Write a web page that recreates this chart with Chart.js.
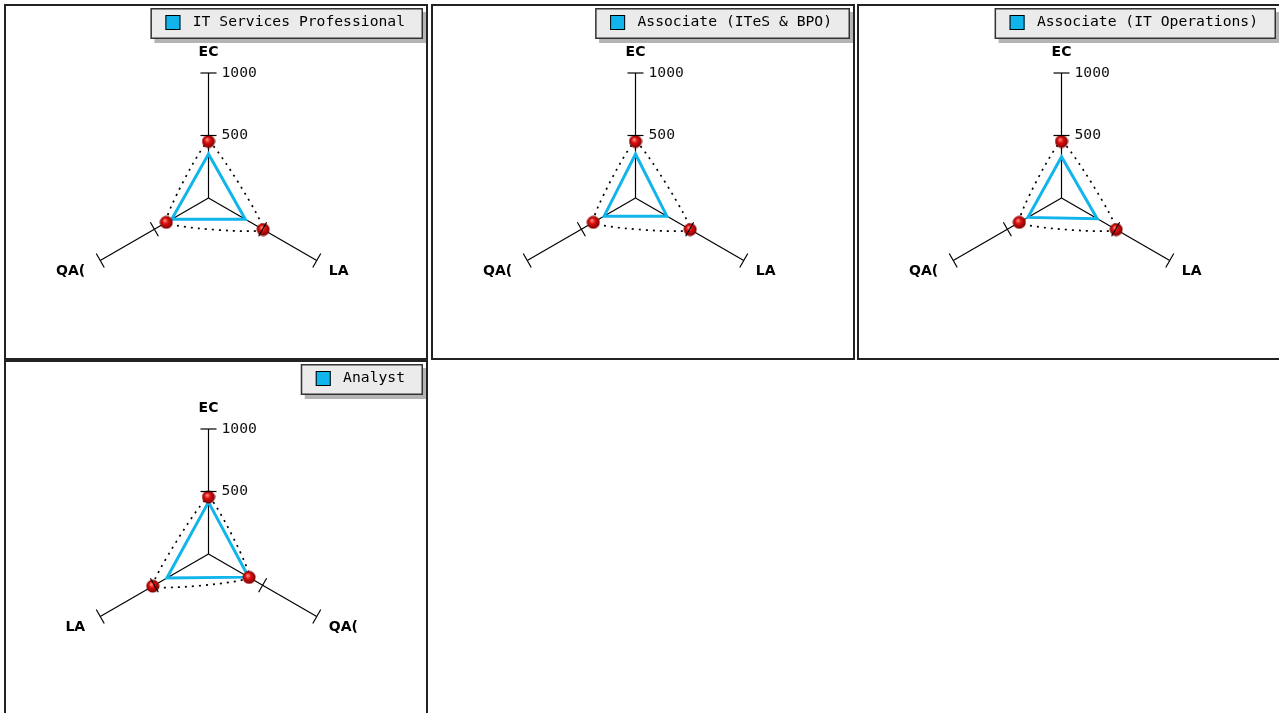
<!DOCTYPE html>
<html>
<head>
<meta charset="utf-8">
<script src="https://cdn.jsdelivr.net/npm/chart.js@4.4.0/dist/chart.umd.min.js"></script>
<style>
body { margin:0; background:#fff; width:1279px; height:713px; overflow:hidden; position:relative; }
.panel { position:absolute; width:424px; height:356px; border:2px solid #222; box-sizing:border-box; background:#fff; }
.panel canvas { display:block; }
</style>
</head>
<body>
<div class="panel" style="left:4px;top:4px"><canvas id="c0" width="420" height="352"></canvas></div>
<div class="panel" style="left:431px;top:4px"><canvas id="c1" width="420" height="352"></canvas></div>
<div class="panel" style="left:857px;top:4px"><canvas id="c2" width="420" height="352"></canvas></div>
<div class="panel" style="left:4px;top:360px"><canvas id="c3" width="420" height="352"></canvas></div>
<script>
// one entry per panel
const panelTitles = ['IT Services Professional', 'Associate (ITeS & BPO)', 'Associate (IT Operations)', 'Analyst'];
const axisLabels = [
  ['EC', 'LA', 'QA('],
  ['EC', 'LA', 'QA('],
  ['EC', 'LA', 'QA('],
  ['EC', 'QA(', 'LA']
];
const roleScores = [
  [352, 340, 340],
  [352, 290, 290],
  [330, 330, 310],
  [415, 370, 385]
];
const benchmarkScores = [
  [452, 505, 390],
  [452, 505, 390],
  [452, 505, 390],
  [455, 375, 515]
];
const scaleMin = 0, scaleMax = 1000, scaleStep = 500;

const blue = '#12b4ec';

// little shaded red ball for the benchmark points
function makeBall() {
  const c = document.createElement('canvas');
  c.width = 14; c.height = 14;
  const g = c.getContext('2d');
  const grad = g.createRadialGradient(5.5, 5, 0.5, 7, 7, 7);
  grad.addColorStop(0, '#ff9080');
  grad.addColorStop(0.35, '#e01010');
  grad.addColorStop(1, '#700000');
  g.fillStyle = grad;
  g.beginPath(); g.arc(7, 7, 6.5, 0, Math.PI * 2); g.fill();
  return c;
}
const ball = makeBall();

// boxed legend with a drop shadow
const legendBox = {
  id: 'legendBox',
  beforeDraw(chart) {
    const lg = chart.legend;
    if (!lg || !lg.legendHitBoxes || !lg.legendHitBoxes.length) return;
    const hb = lg.legendHitBoxes[0];
    const ctx = chart.ctx;
    const x = hb.left - 15, y = 2, w = 417 - x, h = 31;
    ctx.save();
    ctx.fillStyle = '#b4b4b4';
    ctx.fillRect(x + 4, y + 4, w, h);
    ctx.fillStyle = '#ebebeb';
    ctx.fillRect(x, y, w, h);
    ctx.strokeStyle = '#333';
    ctx.lineWidth = 1.5;
    ctx.strokeRect(x + 0.75, y + 0.75, w - 1.5, h - 1.5);
    const sy = hb.top + (hb.height - 15) / 2;
    ctx.fillStyle = chart.data.datasets[0].borderColor;
    ctx.fillRect(hb.left, sy, 15, 15);
    ctx.strokeStyle = '#000';
    ctx.lineWidth = 1;
    ctx.strokeRect(hb.left + 0.5, sy + 0.5, 14, 14);
    ctx.restore();
  }
};

// tick marks across each axis, value labels and axis names
const radarMarks = {
  id: 'radarMarks',
  afterDraw(chart) {
    const s = chart.scales.r, ctx = chart.ctx;
    const n = chart.data.labels.length;
    ctx.save();
    ctx.strokeStyle = '#000';
    ctx.lineWidth = 1.2;
    for (let i = 0; i < n; i++) {
      const a = s.getIndexAngle(i) - Math.PI / 2;
      const px = -Math.sin(a), py = Math.cos(a);
      s.ticks.forEach(t => {
        if (t.value <= scaleMin) return;
        const p = s.getPointPositionForValue(i, t.value);
        ctx.beginPath();
        ctx.moveTo(p.x - 8 * px, p.y - 8 * py);
        ctx.lineTo(p.x + 8 * px, p.y + 8 * py);
        ctx.stroke();
      });
    }
    ctx.fillStyle = '#111';
    ctx.font = '14.7px "DejaVu Sans Mono"';
    ctx.textAlign = 'left';
    ctx.textBaseline = 'middle';
    s.ticks.forEach(t => {
      if (t.value <= scaleMin) return;
      const p = s.getPointPositionForValue(0, t.value);
      ctx.fillText(t.label, p.x + 13, p.y);
    });
    ctx.font = 'bold 14px "DejaVu Sans"';
    ctx.fillStyle = '#000';
    chart.data.labels.forEach((lab, i) => {
      if (i === 0) {
        const p = s.getPointPosition(i, s.drawingArea + 21);
        ctx.textAlign = 'center';
        ctx.fillText(lab, p.x, p.y);
        return;
      }
      const p = s.getPointPosition(i, s.drawingArea + 22);
      if (p.x > s.xCenter) {
        ctx.textAlign = 'left';
        ctx.fillText(lab, p.x - 7, p.y);
      } else {
        ctx.textAlign = 'right';
        ctx.fillText(lab, p.x + 4, p.y);
      }
    });
    ctx.restore();
  }
};

panelTitles.forEach((title, k) => {
  new Chart('c' + k, {
    type: 'radar',
    data: {
      labels: axisLabels[k],
      datasets: [{
        label: title,
        data: roleScores[k],
        borderColor: blue,
        backgroundColor: blue,
        borderWidth: 3,
        pointRadius: 0,
        fill: false,
        tension: 0,
        order: 2,
        segment: { borderWidth: c => c.p0DataIndex === 1 ? 2 : 3 }
      }, {
        label: 'benchmark',
        data: benchmarkScores[k],
        borderColor: '#000',
        backgroundColor: 'rgba(0,0,0,0)',
        borderWidth: 1.7,
        borderDash: [2, 5],
        pointStyle: ball,
        pointRadius: 7,
        fill: false,
        tension: 0.12,
        order: 1
      }]
    },
    options: {
      responsive: false,
      animation: false,
      events: [],
      layout: { padding: { right: 12 } },
      plugins: {
        tooltip: { enabled: false },
        legend: {
          position: 'top',
          align: 'end',
          labels: {
            boxWidth: 20,
            boxHeight: 15,
            padding: 9,
            color: '#000',
            font: { family: 'DejaVu Sans Mono', size: 14.7 },
            generateLabels: chart => [{
              text: chart.data.datasets[0].label,
              fillStyle: 'rgba(0,0,0,0)',
              strokeStyle: 'rgba(0,0,0,0)',
              lineWidth: 0,
              datasetIndex: 0,
              hidden: false
            }]
          }
        }
      },
      scales: {
        r: {
          min: scaleMin,
          max: scaleMax,
          ticks: { display: false, stepSize: scaleStep, callback: v => String(v) },
          grid: { display: false },
          angleLines: { display: true, color: '#000', lineWidth: 1.2 },
          pointLabels: { display: false },
          afterFit: s => { s.xCenter = 202.5; s.yCenter = 192; s.drawingArea = 125; }
        }
      }
    },
    plugins: [legendBox, radarMarks]
  });
});
</script>
</body>
</html>
